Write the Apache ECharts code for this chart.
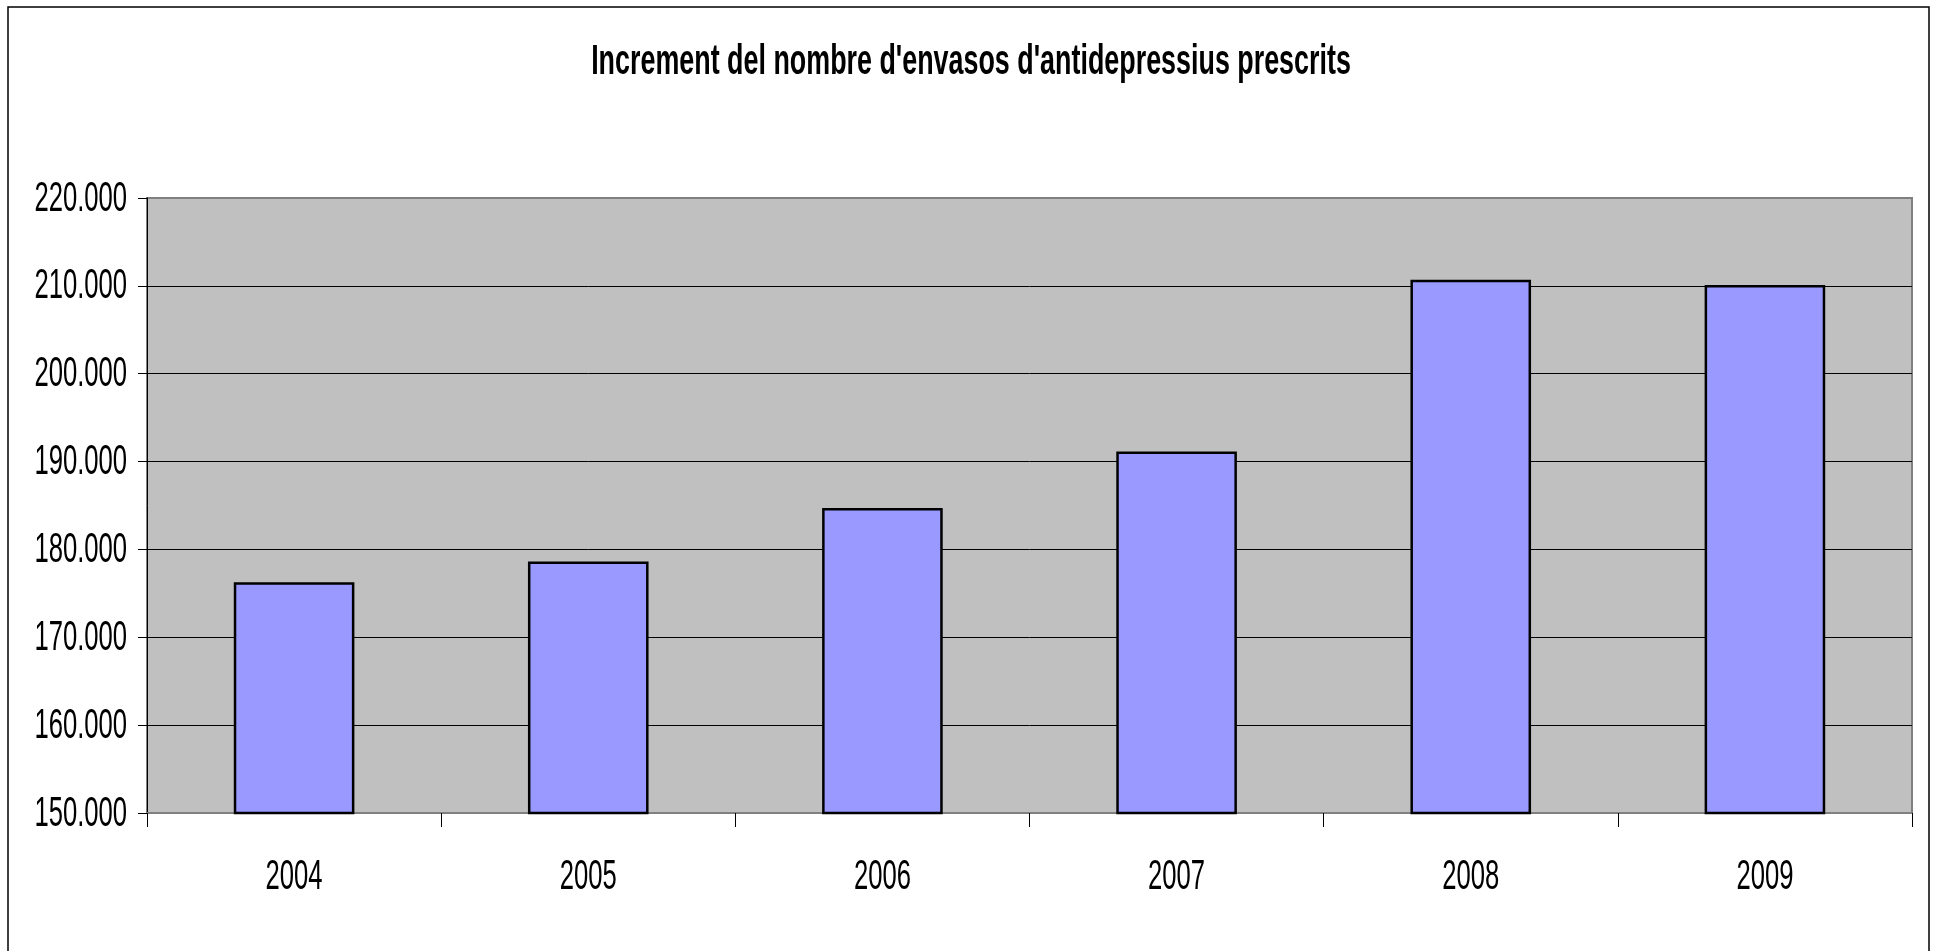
<!DOCTYPE html>
<html>
<head>
<meta charset="utf-8">
<script src="https://cdn.jsdelivr.net/npm/echarts@6/dist/echarts.min.js"></script>
<style>
html,body{margin:0;padding:0;background:#fff;}
#chart{width:1933px;height:951px;}
</style>
</head>
<body>
<div id="chart"></div>
<script>
const titleText = "Increment del nombre d'envasos d'antidepressius prescrits";
const categories = ['2004', '2005', '2006', '2007', '2008', '2009'];
const values = [176270, 178630, 184710, 191160, 210700, 210100];
const yTicks = [150000, 160000, 170000, 180000, 190000, 200000, 210000, 220000];
const yMin = 150000, yMax = 220000, yStep = 10000;

const FONT = '"Liberation Sans", Arial, sans-serif';
const SQUEEZE = 0.61;

function fmt(v) {
  const s = String(Math.round(v));
  return s.replace(/\B(?=(\d{3})+(?!\d))/g, '.');
}

const chart = echarts.init(document.getElementById('chart'));
chart.setOption({
  animation: false,
  backgroundColor: '#ffffff',
  grid: {
    left: 147, right: 21, top: 198, bottom: 138,
    show: true,
    backgroundColor: '#c0c0c0',
    borderColor: '#808080',
    borderWidth: 2,
    containLabel: false
  },
  xAxis: {
    type: 'category',
    data: categories,
    boundaryGap: true,
    axisLine: { show: true, lineStyle: { color: '#808080', width: 2 } },
    axisTick: { show: true, alignWithLabel: false, length: 14, lineStyle: { color: '#000', width: 1 } },
    axisLabel: { show: false },
    splitLine: { show: false }
  },
  yAxis: {
    type: 'value',
    min: yMin, max: yMax, interval: yStep,
    axisLine: { show: true, lineStyle: { color: '#000', width: 1 } },
    axisTick: { show: true, length: 9, lineStyle: { color: '#000', width: 1 } },
    axisLabel: { show: false },
    splitLine: { show: true, showMinLine: false, showMaxLine: false, lineStyle: { color: '#000', width: 1 } }
  },
  series: [{
    type: 'bar',
    data: values,
    barWidth: '41%',
    itemStyle: { color: '#9999ff', borderColor: '#000', borderWidth: 2.5 }
  }]
});

// Text drawn as real text, squeezed horizontally like the original, positioned via the chart's own scales
const elements = [{
  type: 'rect',
  shape: { x: 8, y: 7, width: 1921, height: 960 },
  style: { fill: 'none', stroke: '#000', lineWidth: 1.5 },
  silent: true,
  z: 100
}, {
  type: 'text',
  x: 971, y: 62,
  scaleX: 0.64,
  style: { text: titleText, font: 'bold 42px ' + FONT, fill: '#000', align: 'center', verticalAlign: 'middle' },
  z: 100
}];

yTicks.forEach(function (v) {
  const py = chart.convertToPixel({ yAxisIndex: 0 }, v);
  const px = chart.convertToPixel({ xAxisIndex: 0 }, categories[0]);
  elements.push({
    type: 'text',
    x: 127, y: py + 1,
    scaleX: SQUEEZE,
    style: { text: fmt(v), font: '42px ' + FONT, fill: '#000', align: 'right', verticalAlign: 'middle' },
    z: 100
  });
});

categories.forEach(function (c) {
  const px = chart.convertToPixel({ xAxisIndex: 0 }, c);
  elements.push({
    type: 'text',
    x: px, y: 877,
    scaleX: SQUEEZE,
    style: { text: c, font: '42px ' + FONT, fill: '#000', align: 'center', verticalAlign: 'middle' },
    z: 100
  });
});

chart.setOption({ graphic: { elements: elements } });
</script>
</body>
</html>
